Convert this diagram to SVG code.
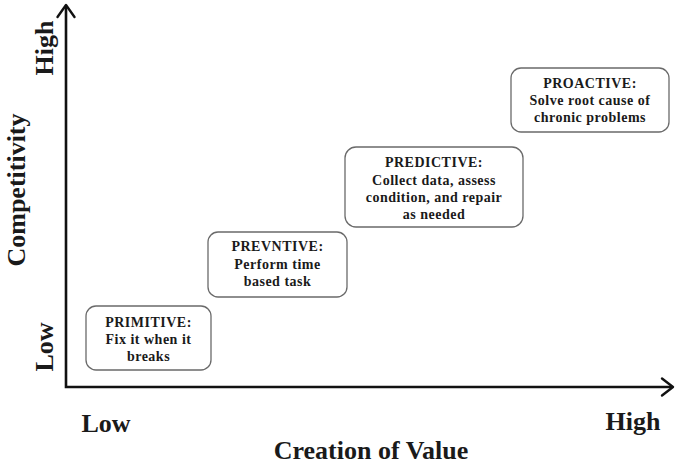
<svg xmlns="http://www.w3.org/2000/svg" width="680" height="468" viewBox="0 0 680 468">
  <style>
    .box { fill: #ffffff; stroke: #6a6a6a; stroke-width: 1.3; }
    .t { font-family: "Liberation Serif", "Times New Roman", serif; font-weight: bold; fill: #1a1a1a; text-anchor: middle; }
    .bt { font-size: 14px; letter-spacing: 0.5px; }
    .ax { font-size: 26px; }
    .axis { stroke: #111; stroke-width: 2.6; fill: none; }
    .head { stroke: #111; stroke-width: 2.4; fill: none; stroke-linecap: round; stroke-linejoin: round; }
  </style>
  <rect width="680" height="468" fill="#ffffff"/>

  <!-- axes -->
  <g id="connectors">
    <polyline class="axis" points="66,6 66,387 672,387"/>
    <polyline class="head" points="57.5,17 66,5 74.5,17"/>
    <polyline class="head" points="662,378.5 673,387 662,395.5"/>
  </g>

  <!-- axis labels -->
  <g id="y-labels">
    <text class="t ax" transform="translate(53,48) rotate(-90)">High</text>
    <text class="t ax" transform="translate(25,190) rotate(-90)">Competitivity</text>
    <text class="t ax" transform="translate(53,347) rotate(-90)">Low</text>
  </g>
  <g id="x-labels">
    <text class="t ax" x="106" y="432">Low</text>
    <text class="t ax" x="633" y="430">High</text>
    <text class="t ax" x="371" y="459">Creation of Value</text>
  </g>

  <g id="primitive">
    <rect class="box" x="86" y="306" width="125" height="64" rx="10"/>
    <text class="t bt" x="148.5" y="327">PRIMITIVE:</text>
    <text class="t bt" x="148.5" y="344">Fix it when it</text>
    <text class="t bt" x="148.5" y="361">breaks</text>
  </g>

  <g id="preventive">
    <rect class="box" x="208" y="232" width="139" height="65" rx="10"/>
    <text class="t bt" x="277.5" y="251">PREVNTIVE:</text>
    <text class="t bt" x="277.5" y="269">Perform time</text>
    <text class="t bt" x="277.5" y="286">based task</text>
  </g>

  <g id="predictive">
    <rect class="box" x="345" y="147" width="178" height="80" rx="11"/>
    <text class="t bt" x="434" y="167">PREDICTIVE:</text>
    <text class="t bt" x="434" y="185">Collect data, assess</text>
    <text class="t bt" x="434" y="202">condition, and repair</text>
    <text class="t bt" x="434" y="219">as needed</text>
  </g>

  <g id="proactive">
    <rect class="box" x="511" y="68" width="158" height="64" rx="10"/>
    <text class="t bt" x="590" y="88">PROACTIVE:</text>
    <text class="t bt" x="590" y="105">Solve root cause of</text>
    <text class="t bt" x="590" y="122">chronic problems</text>
  </g>
</svg>
